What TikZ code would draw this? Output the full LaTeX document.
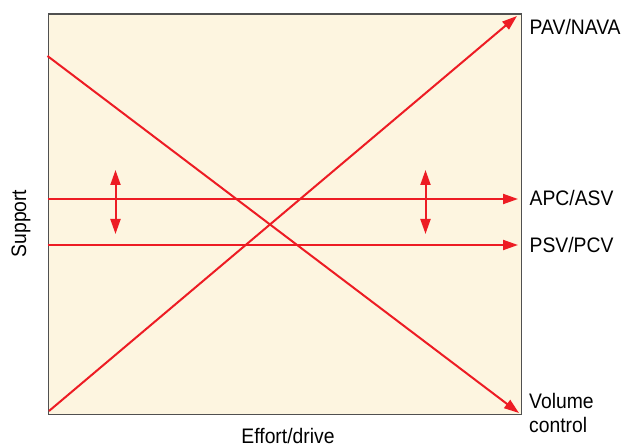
\documentclass[tikz,border=0pt]{standalone}
\usepackage{fontspec}
\setmainfont[FakeStretch=0.92]{Liberation Sans}
\usetikzlibrary{arrows.meta}
\definecolor{cream}{RGB}{253,245,224}
\definecolor{lred}{RGB}{237,28,36}
\definecolor{frame}{RGB}{80,80,80}
\begin{document}
\begin{tikzpicture}[x=1pt,y=-1pt,
  lbl/.style={inner sep=0pt,font=\fontsize{21}{24}\selectfont},
  redline/.style={draw=lred,line width=2pt},
  arr/.style={redline,-{Triangle[length=15pt,width=10pt]}},
  darr/.style={redline,{Triangle[length=15pt,width=10pt]}-{Triangle[length=15pt,width=10pt]}}]
\useasboundingbox (0,0) rectangle (621,446);
\node[draw=frame,fill=cream,line width=1.5pt,inner sep=0pt,minimum width=473pt,minimum height=400pt,anchor=north west] (box) at (47.5,13.5) {};
% endpoints
\coordinate (d0) at (47.5,56);
\coordinate (d1) at (519,413);
\coordinate (u0) at (49,411);
\coordinate (u1) at (517,16);
\coordinate (a0) at (47.5,199);
\coordinate (a1) at (518,199);
\coordinate (p0) at (47.5,245);
\coordinate (p1) at (518,245);
\coordinate (l0) at (115.5,170);
\coordinate (l1) at (115.5,234);
\coordinate (r0) at (425.5,170);
\coordinate (r1) at (425.5,234);
% lines
\draw[arr] (a0) -- (a1);
\draw[arr] (p0) -- (p1);
\draw[arr] (d0) -- (d1);
\draw[arr] (u0) -- (u1);
\draw[darr] (l0) -- (l1);
\draw[darr] (r0) -- (r1);
% labels
\node[lbl,anchor=base west] (pav) at (529.5,35) {PAV/NAVA};
\node[lbl,anchor=base west] (apc) at (529.5,206) {APC/ASV};
\node[lbl,anchor=base west] (psv) at (529.5,252.5) {PSV/PCV};
\node[lbl,anchor=base west,align=left] (vol) at (529,432) {Volume\\control};
\node[lbl,anchor=base] (eff) at (288,443) {Effort/drive};
\node[lbl,anchor=base,rotate=90] (sup) at (26,223.5) {Support};
\end{tikzpicture}
\end{document}
